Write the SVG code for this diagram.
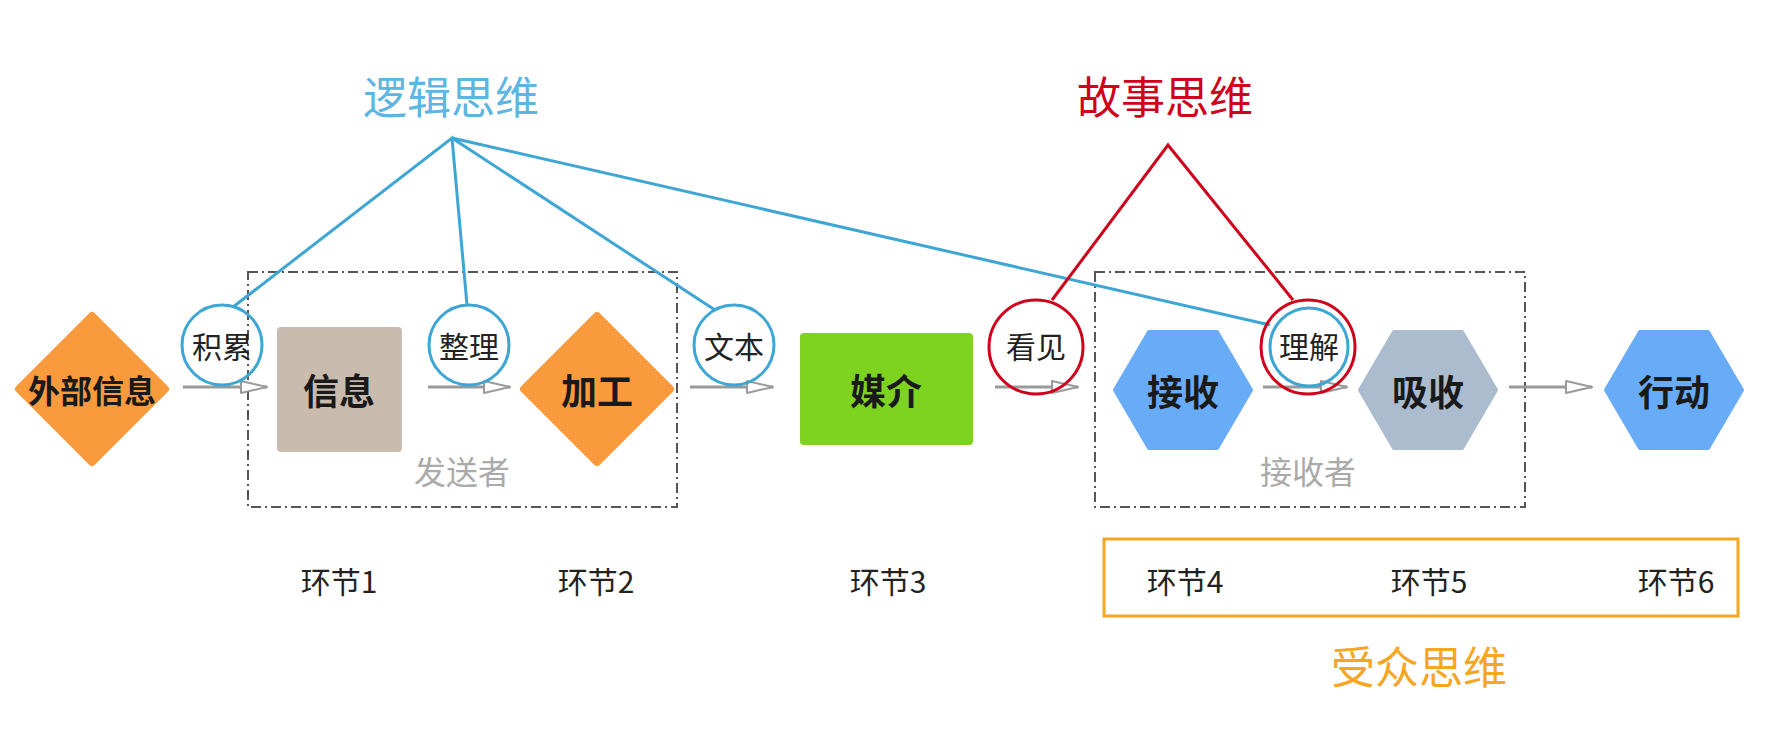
<svg xmlns="http://www.w3.org/2000/svg" width="1766" height="732" viewBox="0 0 1766 732">
<defs>
<marker id="arr" viewBox="0 0 28 16" refX="27" refY="8" markerWidth="28" markerHeight="16" markerUnits="userSpaceOnUse" orient="auto">
<path d="M1,2 L27,8 L1,14 Z" fill="#ffffff" stroke="#9a9a9a" stroke-width="2" stroke-linejoin="round"/>
</marker>
<style>
text{font-family:"Noto Sans CJK SC","Noto Sans CJK TC",sans-serif;text-anchor:middle;dominant-baseline:central;}
.title{font-size:44px;}
.node{font-size:36px;font-weight:bold;fill:#1a1a1a;}
.clabel{font-size:30px;fill:#222;}
.grp{font-size:32px;fill:#aaaaaa;}
.step{font-size:30px;fill:#222;}
.box{fill:none;stroke:#555;stroke-width:2;stroke-dasharray:10 4 2 4;}
.flow{stroke:#9a9a9a;stroke-width:3;fill:none;marker-end:url(#arr);}
.blue{stroke:#3ea6d4;stroke-width:3;fill:none;}
.red{stroke:#d0021b;stroke-width:3;fill:none;}
.dia{fill:#f99b3d;stroke:#f99b3d;stroke-width:8;stroke-linejoin:round;}
.hex{stroke-width:4;stroke-linejoin:round;}
</style>
</defs>
<rect width="1766" height="732" fill="#ffffff"/>

<g id="sender-box">
<rect class="box" x="248" y="272" width="429" height="235"/>
<text class="grp" x="462" y="470">发送者</text>
</g>
<g id="receiver-box">
<rect class="box" x="1095" y="272" width="430" height="235"/>
<text class="grp" x="1308" y="470">接收者</text>
</g>

<g id="connectors">
<line class="flow" x1="183" y1="387" x2="267" y2="387"/>
<line class="flow" x1="428" y1="387" x2="510" y2="387"/>
<line class="flow" x1="690" y1="387" x2="773" y2="387"/>
<line class="flow" x1="995" y1="387" x2="1078" y2="387"/>
<line class="flow" x1="1263" y1="387" x2="1347" y2="387"/>
<line class="flow" x1="1509" y1="387" x2="1592" y2="387"/>
<polyline class="blue" points="233,307 452,138 467,305"/>
<line class="blue" x1="452" y1="138" x2="715" y2="310"/>
<line class="blue" x1="452" y1="138" x2="1270" y2="325"/>
<polyline class="red" points="1052,300 1168,145 1293,300"/>
</g>

<g id="n-waibu">
<polygon class="dia" points="92,316 165,389 92,462 19,389"/>
<text class="node" x="92" y="389" style="font-size:32px">外部信息</text>
</g>
<g id="n-jilei">
<circle class="blue" cx="222" cy="345" r="40"/>
<text class="clabel" x="222" y="345">积累</text>
</g>
<g id="n-xinxi">
<rect x="277" y="327" width="125" height="125" rx="4" fill="#c9bcae"/>
<text class="node" x="339" y="389">信息</text>
</g>
<g id="n-zhengli">
<circle class="blue" cx="469" cy="345" r="40"/>
<text class="clabel" x="469" y="345">整理</text>
</g>
<g id="n-jiagong">
<polygon class="dia" points="597,316 670,389 597,462 524,389"/>
<text class="node" x="597" y="389">加工</text>
</g>
<g id="n-wenben">
<circle class="blue" cx="734" cy="345" r="40"/>
<text class="clabel" x="734" y="345">文本</text>
</g>
<g id="n-meijie">
<rect x="800" y="333" width="173" height="112" rx="4" fill="#7ed321"/>
<text class="node" x="886" y="389">媒介</text>
</g>
<g id="n-kanjian">
<circle class="red" cx="1036" cy="347" r="47"/>
<text class="clabel" x="1036" y="345">看见</text>
</g>
<g id="n-jieshou">
<polygon class="hex" fill="#68abf7" stroke="#68abf7" points="1115,390 1149,332 1217,332 1251,390 1217,448 1149,448"/>
<text class="node" x="1183" y="390">接收</text>
</g>
<g id="n-lijie">
<circle class="red" cx="1308" cy="347" r="47"/>
<circle class="blue" cx="1309" cy="347" r="39"/>
<text class="clabel" x="1309" y="345">理解</text>
</g>
<g id="n-xishou">
<polygon class="hex" fill="#abbccf" stroke="#abbccf" points="1360,390 1394,332 1462,332 1496,390 1462,448 1394,448"/>
<text class="node" x="1428" y="390">吸收</text>
</g>
<g id="n-xingdong">
<polygon class="hex" fill="#68abf7" stroke="#68abf7" points="1606,390 1640,332 1708,332 1742,390 1708,448 1640,448"/>
<text class="node" x="1674" y="390">行动</text>
</g>

<g id="t-luoji"><text class="title" x="451" y="95" fill="#5db5e2">逻辑思维</text></g>
<g id="t-gushi"><text class="title" x="1165" y="95" fill="#d0021b">故事思维</text></g>

<g id="steps">
<text class="step" x="339" y="580">环节1</text>
<text class="step" x="596" y="580">环节2</text>
<text class="step" x="888" y="580">环节3</text>
</g>
<g id="audience">
<rect x="1104" y="539" width="634" height="77" fill="none" stroke="#f5a623" stroke-width="3"/>
<text class="step" x="1185" y="580">环节4</text>
<text class="step" x="1429" y="580">环节5</text>
<text class="step" x="1676" y="580">环节6</text>
<text class="title" x="1419" y="665" fill="#f5a623">受众思维</text>
</g>
</svg>
